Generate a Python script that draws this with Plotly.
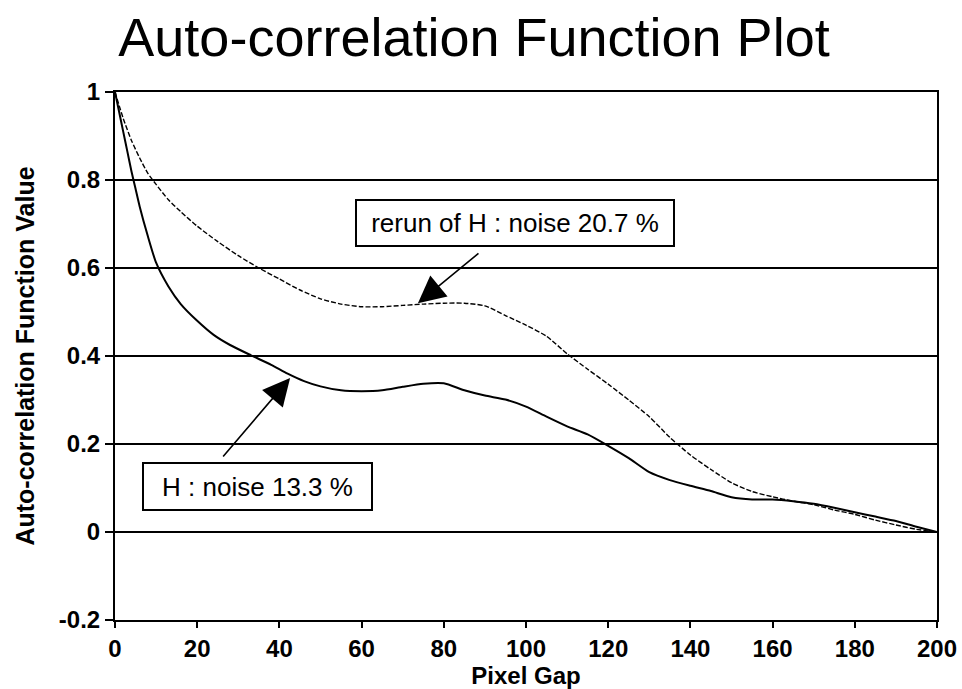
import plotly.graph_objects as go

# Pixel gap positions and auto-correlation values
gap_h = [0, 1, 2, 3, 4, 5, 6, 8, 10, 13, 16, 20, 24, 28, 33, 38, 42, 46, 50, 55, 60, 65, 70, 75, 80,
         85, 90, 95, 100, 105, 110, 115, 120, 125, 130, 135, 140, 145, 150, 155, 160, 165, 170, 175,
         180, 185, 190, 195, 200]
acf_h = [1.0, 0.955, 0.91, 0.865, 0.82, 0.78, 0.74, 0.672, 0.612, 0.558, 0.518, 0.48, 0.448, 0.425,
         0.402, 0.38, 0.36, 0.343, 0.331, 0.322, 0.32, 0.322, 0.33, 0.337, 0.338, 0.322, 0.31, 0.301,
         0.285, 0.262, 0.24, 0.222, 0.196, 0.168, 0.136, 0.118, 0.105, 0.093, 0.079, 0.074, 0.074,
         0.07, 0.064, 0.055, 0.045, 0.035, 0.025, 0.012, 0.0]

gap_rerun = [0, 2, 4, 6, 8, 10, 13, 16, 20, 25, 30, 35, 40, 45, 50, 55, 60, 65, 70, 75, 80, 85, 90,
             95, 100, 105, 110, 115, 120, 125, 130, 135, 140, 145, 150, 155, 160, 165, 170, 175, 180,
             185, 190, 195, 200]
acf_rerun = [1.0, 0.94, 0.89, 0.85, 0.815, 0.79, 0.755, 0.728, 0.695, 0.66, 0.628, 0.6, 0.575, 0.55,
             0.53, 0.518, 0.512, 0.512, 0.515, 0.518, 0.52, 0.52, 0.514, 0.492, 0.47, 0.445, 0.405,
             0.37, 0.336, 0.3, 0.262, 0.215, 0.175, 0.142, 0.112, 0.092, 0.08, 0.07, 0.062, 0.05,
             0.04, 0.027, 0.016, 0.006, 0.0]

x_ticks = [0, 20, 40, 60, 80, 100, 120, 140, 160, 180, 200]
y_ticks = [-0.2, 0, 0.2, 0.4, 0.6, 0.8, 1]
y_tick_labels = ["-0.2", "0", "0.2", "0.4", "0.6", "0.8", "1"]

label_h = "H : noise 13.3 %"
label_rerun = "rerun of H : noise 20.7 %"

FONT = "Arial, 'Liberation Sans', Helvetica, sans-serif"

fig = go.Figure()
fig.add_trace(go.Scatter(x=gap_h, y=acf_h, mode="lines", name=label_h,
                         line=dict(color="black", width=2, shape="spline", smoothing=0.6)))
fig.add_trace(go.Scatter(x=gap_rerun, y=acf_rerun, mode="lines", name=label_rerun,
                         line=dict(color="black", width=1.4, dash="5px,2px", shape="spline", smoothing=0.6)))

# label boxes
fig.add_annotation(x=97.3, y=0.702, xref="x", yref="y", text=label_rerun, showarrow=False,
                   font=dict(family=FONT, size=26, color="black"), bgcolor="white",
                   bordercolor="black", borderwidth=2, borderpad=2, width=312, height=40)
fig.add_annotation(x=34.6, y=0.104, xref="x", yref="y", text=label_h, showarrow=False,
                   font=dict(family=FONT, size=26, color="black"), bgcolor="white",
                   bordercolor="black", borderwidth=2, borderpad=2, width=223, height=41)
# arrows
fig.add_annotation(x=73.7, y=0.52, ax=88.8, ay=0.636, xref="x", yref="y", axref="x", ayref="y",
                   text="", showarrow=True, arrowhead=2, arrowsize=3.4, arrowwidth=1.6,
                   arrowcolor="black", standoff=0)
fig.add_annotation(x=42.6, y=0.35, ax=26.0, ay=0.168, xref="x", yref="y", axref="x", ayref="y",
                   text="", showarrow=True, arrowhead=2, arrowsize=3.4, arrowwidth=1.6,
                   arrowcolor="black", standoff=0)

fig.update_layout(
    width=962, height=689,
    margin=dict(l=115, r=25, t=92, b=69),
    paper_bgcolor="white", plot_bgcolor="white",
    showlegend=False,
    font=dict(family=FONT, color="black"),
    title=dict(text="Auto-correlation Function Plot", x=474 / 962, xanchor="center",
               xref="container", yref="container", y=1 - 37 / 689, yanchor="middle",
               font=dict(family=FONT, size=54, color="black")),
    xaxis=dict(range=[0, 200], tickvals=x_ticks, ticks="outside", ticklen=6, tickwidth=2,
               tickcolor="black", showline=True, linecolor="black", linewidth=2, mirror=True,
               showgrid=False, zeroline=False, automargin=False,
               tickfont=dict(family=FONT, size=24, color="black", weight="bold"),
               title=dict(text="Pixel Gap",
                          font=dict(family=FONT, size=24, color="black", weight="bold"),
                          standoff=12)),
    yaxis=dict(range=[-0.2, 1], tickvals=y_ticks, ticktext=y_tick_labels, ticks="outside",
               ticklen=8, tickwidth=2, tickcolor="black", showline=True, linecolor="black",
               linewidth=2, mirror=True, showgrid=True, gridcolor="black", gridwidth=1.6,
               zeroline=False, automargin=False,
               tickfont=dict(family=FONT, size=24, color="black", weight="bold"),
               title=dict(text="Auto-correlation Function Value",
                          font=dict(family=FONT, size=25, color="black", weight="bold"),
                          standoff=17)),
)

fig.write_html("out.html")
